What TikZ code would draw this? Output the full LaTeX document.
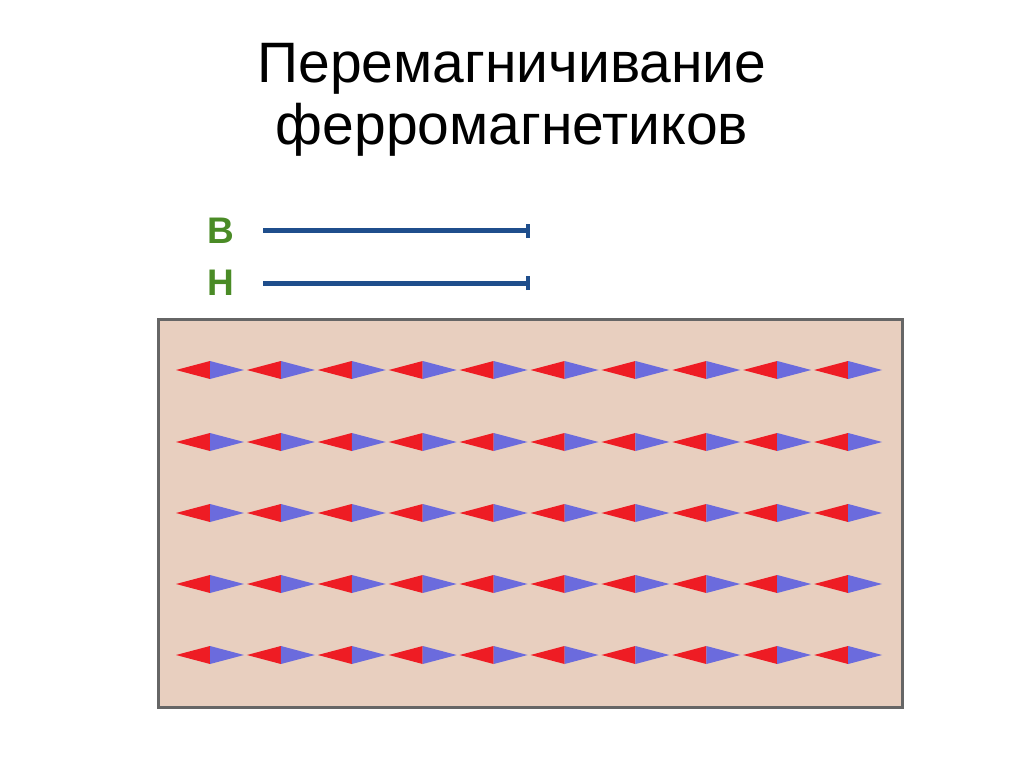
\documentclass[tikz,border=0pt]{standalone}
\usepackage{fontspec}
\setmainfont{Liberation Sans}
\definecolor{bg}{HTML}{E8CFBF}
\definecolor{nred}{HTML}{EE1C24}
\definecolor{nblue}{HTML}{6B6BDD}
\definecolor{lgreen}{HTML}{4A8B26}
\definecolor{lblue}{HTML}{1F4E8C}
\tikzset{lbl/.style={font=\fontsize{37}{37}\selectfont\bfseries,text=lgreen},
fieldline/.style={draw=lblue,line width=5pt}}
\begin{document}
\begin{tikzpicture}[x=1pt,y=-1pt]
\useasboundingbox (0,0) rectangle (1024,767);
\node[font=\fontsize{57}{62}\selectfont,align=center] (title) at (512,100) {Перемагничивание\\ферромагнетиков};
\node[lbl] (B) at (221,231) {B};
\node[lbl] (H) at (221,283) {H};
\foreach \y/\n in {231/b,283/h}{
 \coordinate (\n s) at (263,\y); \coordinate (\n e) at (528,\y);
 \draw[fieldline] (\n s) -- (\n e);
 \draw[lblue,line width=4pt] ([yshift=-7]\n e) -- ([yshift=7]\n e);
}
\draw[fill=bg,draw=gray!80!black,line width=3pt] (158,319) rectangle (902,707);
\foreach \cy in {370,442,513,584,655}{
 \foreach \i in {0,...,9}{
  \pgfmathsetmacro{\cx}{210+70.9*\i}
  \fill[nred] (\cx-34,\cy) -- (\cx,\cy-9) -- (\cx,\cy+9) -- cycle;
  \fill[nblue] (\cx,\cy-9) -- (\cx+34,\cy) -- (\cx,\cy+9) -- cycle;
 }
}
\end{tikzpicture}
\end{document}
